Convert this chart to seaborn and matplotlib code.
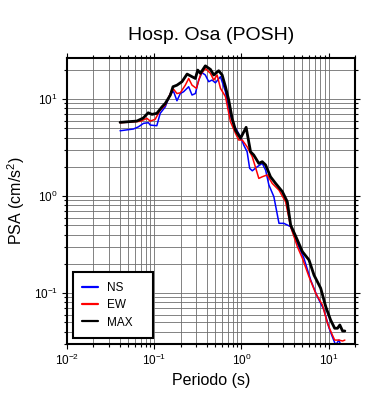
import matplotlib
matplotlib.use("Agg")
import matplotlib.pyplot as plt
import seaborn as sns
from matplotlib.ticker import LogLocator, NullFormatter

# Response spectra (period in s, PSA in cm/s^2)
ns_period = [0.0406, 0.0578, 0.0661, 0.0754, 0.0859, 0.09, 0.107, 0.117, 0.134, 0.153,
             0.167, 0.182, 0.199, 0.217, 0.248, 0.271, 0.296, 0.323, 0.353, 0.385,
             0.421, 0.460, 0.502, 0.574, 0.655, 0.714, 0.815, 0.975, 1.06, 1.16,
             1.24, 1.33, 1.51, 1.73, 1.89, 2.06, 2.35, 2.69, 3.06, 3.66,
             4.37, 5.20, 6.21, 7.41, 8.83, 10.1, 11.0, 12.0, 13.1, 13.7]
ns_psa = [4.71, 4.91, 5.18, 5.62, 5.70, 5.39, 5.31, 7.12, 8.33, 11.4,
          11.9, 9.60, 11.4, 11.9, 13.4, 11.0, 11.4, 15.7, 18.7, 17.7,
          15.1, 15.7, 14.7, 17.0, 11.9, 7.70, 5.39, 4.09, 3.36, 2.86,
          1.93, 1.82, 2.00, 2.17, 1.85, 1.30, 0.984, 0.523, 0.523, 0.483,
          0.325, 0.228, 0.136, 0.0916, 0.0668, 0.0433, 0.0354, 0.0291, 0.0327, 0.0291]

ew_period = [0.0406, 0.069, 0.0824, 0.09, 0.1025, 0.117, 0.134, 0.153, 0.167, 0.182,
             0.199, 0.227, 0.248, 0.271, 0.304, 0.338, 0.385, 0.441, 0.481, 0.526,
             0.574, 0.655, 0.748, 0.853, 0.931, 1.02, 1.16, 1.33, 1.58, 1.73,
             1.97, 2.25, 2.69, 3.20, 3.66, 4.37, 4.99, 5.94, 7.09, 8.47,
             9.66, 11.0, 11.7, 13.1, 14.4, 15.3]
ew_psa = [5.70, 5.89, 6.32, 5.93, 6.18, 7.70, 8.67, 11.4, 12.6, 11.4,
          11.6, 13.9, 16.3, 13.9, 12.9, 17.7, 20.7, 18.4, 15.7, 17.7,
          12.9, 10.6, 5.83, 4.43, 3.78, 3.78, 3.22, 2.54, 1.52, 1.58,
          1.65, 1.35, 1.15, 0.873, 0.483, 0.300, 0.228, 0.147, 0.0993, 0.0752,
          0.0487, 0.0369, 0.0327, 0.0327, 0.0320, 0.0327]

max_period = [0.0406, 0.0632, 0.0748, 0.0853, 0.0942, 0.107, 0.123, 0.134, 0.153, 0.164,
              0.182, 0.208, 0.238, 0.271, 0.296, 0.315, 0.338, 0.385, 0.441, 0.481,
              0.548, 0.600, 0.655, 0.714, 0.781, 0.853, 0.975, 1.13, 1.27, 1.38,
              1.58, 1.73, 1.89, 2.15, 2.46, 2.94, 3.35, 3.50, 3.66, 4.37,
              4.99, 5.94, 6.78, 8.09, 9.24, 10.5, 11.7, 12.6, 13.4, 14.4, 15.3]
max_psa = [5.75, 5.93, 6.37, 7.22, 6.95, 7.12, 8.33, 9.03, 11.0, 13.4,
           13.9, 15.1, 18.1, 17.0, 16.3, 19.9, 18.4, 22.0, 20.2, 17.7,
           19.6, 17.7, 13.4, 9.77, 6.32, 4.79, 3.94, 5.11, 2.86, 2.65,
           2.17, 2.26, 2.09, 1.58, 1.35, 1.11, 0.873, 0.664, 0.502, 0.352,
           0.267, 0.219, 0.153, 0.112, 0.0723, 0.0527, 0.0433, 0.0433, 0.0468, 0.0406, 0.0406]


def main():
    sns.set_style("white")
    plt.rcParams["font.family"] = ["Liberation Sans", "DejaVu Sans"]
    plt.rcParams["text.color"] = "black"
    plt.rcParams["axes.labelcolor"] = "black"
    plt.rcParams["xtick.color"] = "black"
    plt.rcParams["ytick.color"] = "black"

    fig = plt.figure(figsize=(3.9, 4.0), dpi=100)
    ax = fig.add_axes([67 / 390, 56 / 400, 288 / 390, 286 / 400])

    sns.lineplot(x=ns_period, y=ns_psa, color="#0000ff", lw=1.1, label="NS",
                 estimator=None, ax=ax)
    sns.lineplot(x=ew_period, y=ew_psa, color="#ff0000", lw=1.1, label="EW",
                 estimator=None, ax=ax)
    sns.lineplot(x=max_period, y=max_psa, color="black", lw=2.0, label="MAX",
                 estimator=None, ax=ax)

    ax.set_xscale("log")
    ax.set_yscale("log")
    ax.set_xlim(0.01, 20)
    ax.set_ylim(0.0298, 26.5)

    for axis in (ax.xaxis, ax.yaxis):
        axis.set_major_locator(LogLocator(base=10))
        axis.set_minor_locator(LogLocator(base=10, subs=range(2, 10), numticks=20))
        axis.set_minor_formatter(NullFormatter())

    ax.set_axisbelow(True)
    ax.grid(True, which="both", color="#6e6e6e", lw=0.6)

    for sp in ax.spines.values():
        sp.set_visible(True)
        sp.set_color("black")
        sp.set_linewidth(1.5)

    ax.tick_params(which="both", direction="out", top=True, right=True,
                   bottom=True, left=True, color="black", labelcolor="black", width=0.8)
    ax.tick_params(which="major", length=3.6, labelsize=8.5, pad=3)
    ax.tick_params(which="minor", length=2.0)

    ax.set_title("Hosp. Osa (POSH)", fontsize=14, pad=13, color="black")
    ax.set_xlabel("Periodo (s)", fontsize=11.5, labelpad=3, color="black")
    ax.set_ylabel("PSA (cm/s$\\mathregular{^2}$)", fontsize=11.5, labelpad=5, color="black")

    leg = ax.legend(loc="lower left", bbox_to_anchor=(0.021, 0.021, 0.278, 0.25),
                    mode="expand", borderaxespad=0, fontsize=8.5,
                    handlelength=1.3, handletextpad=0.8, borderpad=0.8,
                    labelspacing=0.45, fancybox=False, framealpha=1)
    leg.get_frame().set_edgecolor("black")
    leg.get_frame().set_linewidth(1.5)
    for text in leg.get_texts():
        text.set_color("black")
    for line in leg.get_lines():
        line.set_linewidth(1.6)

    plt.savefig("out.png", dpi=100)
    plt.close()


if __name__ == "__main__":
    main()
